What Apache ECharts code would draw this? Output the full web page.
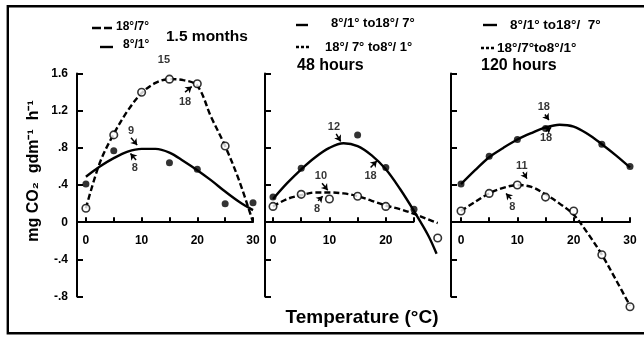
<!DOCTYPE html>
<html>
<head>
<meta charset="utf-8">
<script src="https://cdn.jsdelivr.net/npm/echarts@6/dist/echarts.min.js"></script>
<style>html,body{margin:0;padding:0;background:#fff}#c{width:644px;height:337px}</style>
</head>
<body>
<div id="c"></div>
<script>
// ---------- data ----------
const yTickStep = 0.4;
const yMin = -0.8, yMax = 1.6;
const xTickValues = [0, 5, 10, 15, 20, 25, 30];
const xTickValuesP2 = [0, 5, 10, 15, 20, 25];
const xLabelValues = [0, 10, 20, 30];
const xLabelValuesP2 = [0, 10, 20];

const panelTitles = ['1.5 months', '48 hours', '120 hours'];
const legendP1 = ['18°/7°', '8°/1°'];
const legendP2 = ['8°/1° to18°/ 7°', '18°/ 7° to8°/ 1°'];
const legendP3 = ['8°/1° to18°/  7°', '18°/7°to8°/1°'];
const yTitle = 'mg CO₂  gdm⁻¹  h⁻¹';
const xTitle = 'Temperature (°C)';

// Panel 1: 1.5 months
const p1SolidCurve = [[0,0.49],[2.5,0.60],[5,0.69],[7.5,0.76],[10,0.79],[12.5,0.79],[15,0.75],[17.5,0.66],[20,0.56],[22.5,0.45],[25,0.33],[27.5,0.22],[30,0.13]];
const p1DashedCurve = [[0,0.15],[2.5,0.64],[5,0.95],[7.5,1.20],[10,1.39],[12.5,1.50],[15,1.54],[17.5,1.53],[20,1.47],[22.5,1.13],[25,0.82],[27.5,0.45],[30,0.0]];
const p1Filled = [[0,0.41],[5,0.77],[15,0.64],[20,0.57],[25,0.20],[30,0.21]];
const p1Open = [[0,0.15],[5,0.94],[10,1.40],[15,1.54],[20,1.49],[25,0.82]];
const p1Notes = [
  {text:'15', at:[14.0,1.75], from:[13.6,1.68], to:[14.7,1.60]},
  {text:'18', at:[17.8,1.29], from:[17.8,1.40], to:[19.0,1.46]},
  {text:'9',  at:[8.1,0.98],  from:[8.1,0.91],  to:[9.2,0.83]},
  {text:'8',  at:[8.8,0.58],  from:[9.0,0.67],  to:[8.0,0.74]}
];

// Panel 2: 48 hours
const p2SolidCurve = [[0,0.25],[2.5,0.42],[5,0.57],[7.5,0.70],[10,0.80],[12.5,0.85],[15,0.82],[17.5,0.72],[20,0.57],[22.5,0.36],[25,0.12],[27.5,-0.14],[29,-0.34]];
const p2DashedCurve = [[0,0.17],[2.5,0.25],[5,0.29],[7.5,0.32],[10,0.32],[12.5,0.31],[15,0.28],[17.5,0.23],[20,0.18],[22.5,0.14],[25,0.09],[27.5,0.03],[29.2,-0.01]];
const p2Filled = [[0,0.27],[5,0.58],[15,0.94],[20,0.59],[25,0.14]];
const p2Open = [[0,0.17],[5,0.30],[10,0.25],[15,0.28],[20,0.17],[29.2,-0.17]];
const p2Notes = [
  {text:'12', at:[10.8,1.02], from:[11.2,0.95], to:[12.0,0.87]},
  {text:'18', at:[17.3,0.50], from:[17.3,0.59], to:[18.4,0.66]},
  {text:'10', at:[8.5,0.50],  from:[8.7,0.42],  to:[9.7,0.345]},
  {text:'8',  at:[7.8,0.14],  from:[8.0,0.23],  to:[8.8,0.28]}
];

// Panel 3: 120 hours
const p3SolidCurve = [[0,0.41],[2.5,0.56],[5,0.70],[7.5,0.80],[10,0.89],[12.5,0.96],[15,1.02],[17.5,1.05],[20,1.03],[22.5,0.95],[25,0.84],[27.5,0.72],[30,0.59]];
const p3DashedCurve = [[0,0.12],[2.5,0.22],[5,0.31],[7.5,0.37],[10,0.40],[12.5,0.38],[15,0.30],[17.5,0.20],[20,0.08],[22.5,-0.12],[25,-0.35],[27.5,-0.62],[30,-0.90]];
const p3Filled = [[0,0.41],[5,0.71],[10,0.89],[15,1.01],[25,0.84],[30,0.60]];
const p3Open = [[0,0.12],[5,0.31],[10,0.40],[15,0.27],[20,0.12],[25,-0.35],[30,-0.91]];
const p3Notes = [
  {text:'18', at:[14.7,1.24], from:[14.9,1.16], to:[15.6,1.10]},
  {text:'18', at:[15.1,0.91], from:[15.1,0.98], to:[16.0,1.02]},
  {text:'11', at:[10.8,0.61], from:[11.0,0.54], to:[11.7,0.47]},
  {text:'8',  at:[9.1,0.16],  from:[8.9,0.25],  to:[8.0,0.31]}
];

// ---------- chart ----------
const FONT = '"Liberation Sans", Arial, Helvetica, sans-serif';
const panels = [
  {solid:p1SolidCurve, dashed:p1DashedCurve, filled:p1Filled, open:p1Open, notes:p1Notes, ticks:xTickValues, labels:xLabelValues},
  {solid:p2SolidCurve, dashed:p2DashedCurve, filled:p2Filled, open:p2Open, notes:p2Notes, ticks:xTickValuesP2, labels:xLabelValuesP2},
  {solid:p3SolidCurve, dashed:p3DashedCurve, filled:p3Filled, open:p3Open, notes:p3Notes, ticks:xTickValues, labels:xLabelValues}
];
// axisEnd: where the drawn x axis line stops (panel 2 stops short of the data)
const gridBoxes = [
  {left:77, width:176, xmin:-1.6, xmax:30, axisEnd:30},
  {left:265, width:174.4, xmin:-1.42, xmax:29.5, axisEnd:25},
  {left:451, width:179, xmin:-1.78, xmax:30, axisEnd:30}
];
const TOP = 73.6, HEIGHT = 222.9;
// lift the x axis (line, ticks and labels) up to the y = 0 level
const zeroOffset = -HEIGHT * (0 - yMin) / (yMax - yMin);

const grid = gridBoxes.map(g => ({left:g.left, top:TOP, width:g.width, height:HEIGHT, containLabel:false}));
const xAxis = gridBoxes.map((g, i) => ({
  type:'value', gridIndex:i, min:g.xmin, max:g.xmax, position:'bottom', offset:zeroOffset,
  axisLine:{show:g.axisEnd === g.xmax, onZero:false, lineStyle:{color:'#000', width:2}},
  axisTick:{show:true, inside:true, length:5, customValues:panels[i].ticks, lineStyle:{color:'#000', width:2}},
  axisLabel:{show:true, customValues:panels[i].labels, margin:12, color:'#000', fontSize:12, fontWeight:'bold', fontFamily:FONT},
  splitLine:{show:false}
}));
const yAxis = gridBoxes.map((g, i) => ({
  type:'value', gridIndex:i, min:yMin, max:yMax, interval:yTickStep,
  axisLine:{show:true, onZero:false, lineStyle:{color:'#000', width:2}},
  axisTick:{show:true, inside:true, length:6, lineStyle:{color:'#000', width:2}},
  axisLabel:{show:i === 0, margin:9, color:'#000', fontSize:12, fontWeight:'bold', fontFamily:FONT,
    formatter: v => { const r = Math.round(v*10)/10; if (r === 0) return '0'; return (r < 0 ? '-' : '') + Math.abs(r).toFixed(1).replace(/^0/, ''); }},
  splitLine:{show:false}
}));

const series = [];
panels.forEach((p, i) => {
  const g = gridBoxes[i];
  const solid = {type:'line', xAxisIndex:i, yAxisIndex:i, data:p.solid, smooth:0.35, symbol:'none', clip:false, z:2,
    lineStyle:{color:'#000', width:2.4, type:'solid'}, animation:false, emphasis:{disabled:true}};
  if (g.axisEnd !== g.xmax) {
    solid.markLine = {silent:true, animation:false, symbol:'none', label:{show:false}, emphasis:{disabled:true},
      lineStyle:{color:'#000', width:2, type:'solid'},
      data:[[{coord:[g.xmin, 0]}, {coord:[g.axisEnd, 0]}]]};
  }
  series.push(solid);
  series.push({type:'line', xAxisIndex:i, yAxisIndex:i, data:p.dashed, smooth:0.35, symbol:'none', clip:false, z:2,
    lineStyle:{color:'#000', width:2.4, type:[6,3]}, animation:false, emphasis:{disabled:true}});
  series.push({type:'scatter', xAxisIndex:i, yAxisIndex:i, data:p.filled, symbol:'circle', symbolSize:7, clip:false, z:4,
    itemStyle:{color:'#000'}, animation:false, emphasis:{disabled:true}});
  series.push({type:'scatter', xAxisIndex:i, yAxisIndex:i, data:p.open, symbol:'circle', symbolSize:7.5, clip:false, z:4,
    itemStyle:{color:'#fff', borderColor:'#000', borderWidth:1.6}, animation:false, emphasis:{disabled:true}});
  series.push({type:'scatter', xAxisIndex:i, yAxisIndex:i, symbolSize:0, clip:false, z:5, animation:false, emphasis:{disabled:true},
    data:p.notes.map(n => ({name:n.text, value:n.at})),
    label:{show:true, position:'inside', formatter:'{b}', color:'#000', fontSize:11, fontWeight:'bold', fontFamily:FONT},
    markLine:{silent:true, animation:false, symbol:['none','arrow'], symbolSize:6,
      lineStyle:{color:'#000', width:1.5, type:'solid'}, label:{show:false}, emphasis:{disabled:true},
      data:p.notes.map(n => [{coord:n.from}, {coord:n.to}])}
  });
});

const txt = (x, y, text, size, extra) => Object.assign({type:'text', x, y, style:{text, fill:'#000', fontSize:size, fontWeight:'bold', fontFamily:FONT, textAlign:'left', textVerticalAlign:'middle'}}, extra || {});
const seg = (x1, y1, x2, y2, dash) => ({type:'line', shape:{x1, y1, x2, y2}, style:{stroke:'#000', lineWidth:2.4, lineDash:dash || null}});

const graphic = [
  {type:'rect', shape:{x:7.8, y:6.3, width:650, height:327}, style:{fill:'none', stroke:'#000', lineWidth:2.4}},
  // panel 1 legend
  seg(92, 28, 112, 28, [9,3]), txt(116, 27, legendP1[0], 12),
  seg(100, 47, 113, 47), txt(123, 45, legendP1[1], 12),
  txt(166, 37, panelTitles[0], 15.5),
  // panel 2 legend
  seg(296, 25, 308, 25), txt(331, 23, legendP2[0], 13),
  seg(296, 47, 309, 47, [3,2]), txt(325, 47, legendP2[1], 13),
  txt(297, 66, panelTitles[1], 16),
  // panel 3 legend
  seg(483, 25, 497, 25), txt(510, 25, legendP3[0], 13.5),
  seg(481, 48, 494, 48, [3,2]), txt(497, 48, legendP3[1], 13.5),
  txt(481, 66, panelTitles[2], 16),
  // axis titles
  {type:'text', x:34, y:171, rotation:Math.PI/2, style:{text:yTitle, fill:'#000', fontSize:16, fontWeight:'bold', fontFamily:FONT, textAlign:'center', textVerticalAlign:'middle'}},
  {type:'text', x:362, y:318, style:{text:xTitle, fill:'#000', fontSize:19, fontWeight:'bold', fontFamily:FONT, textAlign:'center', textVerticalAlign:'middle'}}
];

const chart = echarts.init(document.getElementById('c'), null, {renderer:'canvas'});
chart.setOption({animation:false, backgroundColor:'#fff', grid, xAxis, yAxis, series, graphic});
</script>
</body>
</html>
